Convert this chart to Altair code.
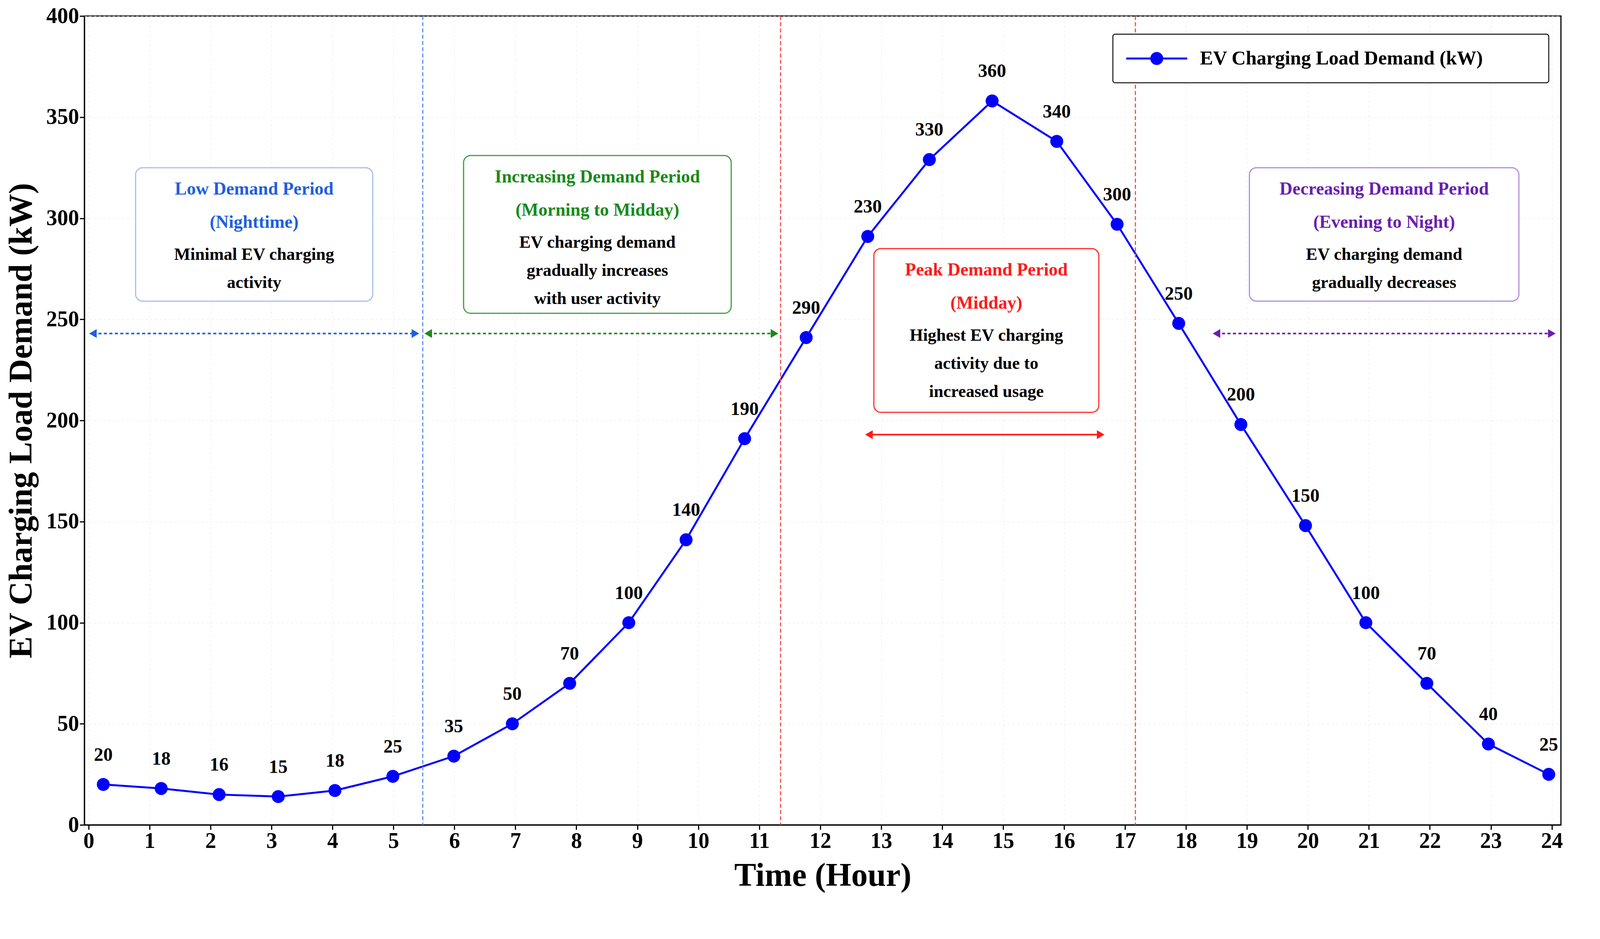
import altair as alt
import pandas as pd

# valores
horas = [0.24, 1.19, 2.14, 3.11, 4.04, 4.99, 5.99, 6.95, 7.89, 8.86, 9.8, 10.76, 11.77,
         12.78, 13.79, 14.82, 15.88, 16.87, 17.88, 18.9, 19.96, 20.95, 21.95, 22.96, 23.95]
demanda = [20, 18, 15, 14, 17, 24, 34, 50, 70, 100, 141, 191, 241,
           291, 329, 358, 338, 297, 248, 198, 148, 100, 70, 40, 25]
rotulos = ["20", "18", "16", "15", "18", "25", "35", "50", "70", "100", "140", "190", "290",
           "230", "330", "360", "340", "300", "250", "200", "150", "100", "70", "40", "25"]

linhas_v = [5.48, 11.35, 17.17]
cores_v = ["#5b8ff0", "#f05050", "#f05050"]

setas_x1 = [0.07, 5.57, 12.8, 18.5]
setas_x2 = [5.36, 11.25, 16.6, 24.0]
setas_y = [243, 243, 193, 243]
setas_cor = ["#1f5fe0", "#1a8a1a", "#ff1a1a", "#6a1fb0"]
setas_dash = [[8, 6], [8, 6], [], [8, 6]]

caixas_x1 = [0.77, 6.15, 12.88, 19.04]
caixas_x2 = [4.66, 10.54, 16.57, 23.46]
caixas_y1 = [259, 253, 204, 259]
caixas_y2 = [325, 331, 285, 325]
caixas_borda = ["#a8c0f0", "#40a040", "#ff3030", "#b090e0"]
titulos = [["Low Demand Period", "(Nighttime)"],
           ["Increasing Demand Period", "(Morning to Midday)"],
           ["Peak Demand Period", "(Midday)"],
           ["Decreasing Demand Period", "(Evening to Night)"]]
titulos_cor = ["#1f5fe0", "#1a8a1a", "#ff1a1a", "#6a1fb0"]
textos = [["Minimal EV charging", "activity"],
          ["EV charging demand", "gradually increases", "with user activity"],
          ["Highest EV charging", "activity due to", "increased usage"],
          ["EV charging demand", "gradually decreases"]]

FONTE = "Liberation Serif"
df = pd.DataFrame({"hora": horas, "demanda": demanda, "rotulo": rotulos})

x = alt.X("hora:Q", scale=alt.Scale(domain=[-0.07, 24.15], nice=False),
          axis=alt.Axis(values=list(range(25)), format="d", title="Time (Hour)", grid=True,
                        gridDash=[6, 6], gridColor="#e6e6e6", tickSize=12))
y = alt.Y("demanda:Q", scale=alt.Scale(domain=[0, 400]),
          axis=alt.Axis(values=list(range(0, 401, 50)), format="d", title="EV Charging Load Demand (kW)",
                        grid=True, gridDash=[6, 6], gridColor="#e6e6e6", tickSize=12))

base = alt.Chart(df)
linha = base.mark_line(color="#0000ff", strokeWidth=5,
                       point=alt.OverlayMarkDef(filled=True, size=1100, color="#0000ff")).encode(x=x, y=y)
txt = base.mark_text(dy=-75, fontSize=48, fontWeight="bold", font=FONTE).encode(x=x, y=y, text="rotulo")

camadas = [linha, txt]

dv = pd.DataFrame({"hora": linhas_v, "cor": cores_v})
camadas.append(alt.Chart(dv).mark_rule(strokeDash=[10, 6], strokeWidth=3).encode(
    x="hora:Q", color=alt.Color("cor:N", scale=None)))

for i in range(4):
    ds = pd.DataFrame({"a": [setas_x1[i]], "b": [setas_x2[i]], "y": [setas_y[i]]})
    s = alt.Chart(ds)
    camadas.append(s.mark_rule(color=setas_cor[i], strokeWidth=4, strokeDash=setas_dash[i]).encode(
        x="a:Q", x2="b:Q", y="y:Q"))
    camadas.append(s.mark_point(shape="triangle-left", filled=True, size=500, color=setas_cor[i], opacity=1).encode(x="a:Q", y="y:Q"))
    camadas.append(s.mark_point(shape="triangle-right", filled=True, size=500, color=setas_cor[i], opacity=1).encode(x="b:Q", y="y:Q"))

    dc = pd.DataFrame({"x1": [caixas_x1[i]], "x2": [caixas_x2[i]], "y1": [caixas_y1[i]], "y2": [caixas_y2[i]]})
    camadas.append(alt.Chart(dc).mark_rect(fill="white", stroke=caixas_borda[i], strokeWidth=3,
                                           cornerRadius=18).encode(x="x1:Q", x2="x2:Q", y="y1:Q", y2="y2:Q"))
    meio = (caixas_x1[i] + caixas_x2[i]) / 2
    topo = caixas_y2[i]
    dt = pd.DataFrame({"x": [meio], "y": [topo]})
    camadas.append(alt.Chart(dt).mark_text(baseline="middle", dy=55, fontSize=46, fontWeight="bold",
                                           font=FONTE, color=titulos_cor[i], lineHeight=85).encode(
        x="x:Q", y="y:Q", text=alt.value(titulos[i])))
    camadas.append(alt.Chart(dt).mark_text(baseline="middle", dy=223, fontSize=44, fontWeight="bold",
                                           font=FONTE, color="black", lineHeight=72).encode(
        x="x:Q", y="y:Q", text=alt.value(textos[i])))

# legenda manual
dl = pd.DataFrame({"x1": [16.8], "x2": [23.95], "y1": [367], "y2": [391]})
camadas.append(alt.Chart(dl).mark_rect(fill="white", stroke="#333333", strokeWidth=3, cornerRadius=6).encode(
    x="x1:Q", x2="x2:Q", y="y1:Q", y2="y2:Q"))
dll = pd.DataFrame({"a": [17.02], "b": [18.02], "p": [17.52], "t": [18.23], "y": [379]})
camadas.append(alt.Chart(dll).mark_rule(color="#0000ff", strokeWidth=5).encode(x="a:Q", x2="b:Q", y="y:Q"))
camadas.append(alt.Chart(dll).mark_point(filled=True, size=1100, color="#0000ff", opacity=1).encode(x="p:Q", y="y:Q"))
camadas.append(alt.Chart(dll).mark_text(align="left", fontSize=50, fontWeight="bold", font=FONTE).encode(
    x="t:Q", y="y:Q", text=alt.value("EV Charging Load Demand (kW)")))

chart = alt.layer(*camadas).properties(width=3780, height=2070).configure(
    background="white"
).configure_view(
    stroke="black", strokeWidth=3
).configure_axis(
    labelFont=FONTE, titleFont=FONTE, labelFontSize=56, titleFontSize=84,
    labelFontWeight="bold", titleFontWeight="bold", labelColor="black", titleColor="black",
    domainColor="black", tickColor="black", domainWidth=3, tickWidth=3, titlePadding=20
)

chart.save("out.html", embed_options={"renderer": "svg", "actions": False})
